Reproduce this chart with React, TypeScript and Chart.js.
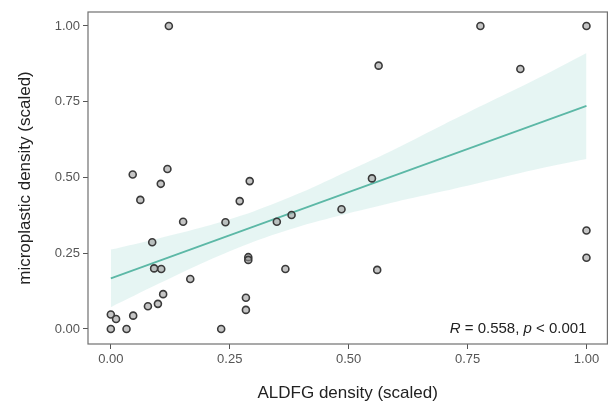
import React, { useEffect, useRef } from "react";
import { Chart, registerables } from "chart.js";

Chart.register(...registerables);

// Observed points (ALDFG density scaled, microplastic density scaled)
const xValues = [
  0.046, 0.119, 0.105, 0.062, 0.152, 0.087, 0.091, 0.106, 0.167, 0.110,
  0.099, 0.078, 0.047, 0.0, 0.011, 0.0, 0.033, 0.292, 0.271, 0.241,
  0.349, 0.380, 0.485, 0.549, 0.289, 0.289, 0.367, 0.560, 0.284, 0.284,
  0.232, 0.777, 1.0, 0.563, 0.861, 1.0, 1.0, 0.122,
];
const yValues = [
  0.510, 0.528, 0.479, 0.426, 0.354, 0.286, 0.200, 0.198, 0.165, 0.115,
  0.083, 0.075, 0.044, 0.048, 0.033, 0.0, 0.0, 0.488, 0.422, 0.352,
  0.354, 0.376, 0.395, 0.497, 0.237, 0.228, 0.198, 0.195, 0.103, 0.063,
  0.0, 1.0, 1.0, 0.869, 0.858, 0.325, 0.235, 1.0,
];

// Fitted line
const fitX = [0, 1];
const fitY = [0.167, 0.736];

// Confidence band
const bandX = [0, 0.1, 0.2, 0.3, 0.4, 0.5, 0.6, 0.7, 0.8, 0.9, 1.0];
const bandUpper = [0.262, 0.299, 0.339, 0.388, 0.45, 0.522, 0.596, 0.675, 0.752, 0.829, 0.911];
const bandLower = [0.072, 0.149, 0.223, 0.288, 0.34, 0.382, 0.42, 0.455, 0.492, 0.529, 0.561];

const tickValues = [0, 0.25, 0.5, 0.75, 1];
const xTitle = "ALDFG density (scaled)";
const yTitle = "microplastic density (scaled)";
const annotationParts = [
  { text: "R", italic: true },
  { text: " = 0.558, ", italic: false },
  { text: "p", italic: true },
  { text: " < 0.001", italic: false },
];

const FONT = "'Liberation Sans', Arial, sans-serif";

const decorPlugin = {
  id: "decor",
  afterDatasetsDraw(chart: any) {
    const { ctx, chartArea, scales } = chart;
    ctx.save();
    ctx.strokeStyle = "#707070";
    ctx.lineWidth = 1.2;
    ctx.strokeRect(chartArea.left, chartArea.top, chartArea.right - chartArea.left, chartArea.bottom - chartArea.top);
    // annotation
    const xr = scales.x.getPixelForValue(1);
    const yc = scales.y.getPixelForValue(0);
    const fontFor = (it: boolean) => `${it ? "italic " : ""}15px ${FONT}`;
    let total = 0;
    for (const p of annotationParts) {
      ctx.font = fontFor(p.italic);
      total += ctx.measureText(p.text).width;
    }
    let x = xr - total;
    ctx.fillStyle = "#222";
    ctx.textBaseline = "middle";
    ctx.textAlign = "left";
    for (const p of annotationParts) {
      ctx.font = fontFor(p.italic);
      ctx.fillText(p.text, x, yc);
      x += ctx.measureText(p.text).width;
    }
    ctx.restore();
  },
};

export default function App() {
  const ref = useRef<HTMLCanvasElement>(null);
  useEffect(() => {
    if (!ref.current) return;
    const points = xValues.map((x, i) => ({ x, y: yValues[i] }));
    const fit = fitX.map((x, i) => ({ x, y: fitY[i] }));
    const up = bandX.map((x, i) => ({ x, y: bandUpper[i] }));
    const lo = bandX.map((x, i) => ({ x, y: bandLower[i] }));
    const chart = new Chart(ref.current, {
      type: "scatter",
      data: {
        datasets: [
          {
            data: points,
            pointRadius: 3.5,
            pointBorderWidth: 1.6,
            pointBorderColor: "#3a3a3a",
            pointBackgroundColor: "rgba(150,150,150,0.55)",
          },
          {
            data: fit,
            showLine: true,
            pointRadius: 0,
            borderColor: "#5cb8a6",
            borderWidth: 1.8,
          },
          {
            data: up,
            showLine: true,
            pointRadius: 0,
            borderWidth: 0,
            borderColor: "rgba(0,0,0,0)",
            backgroundColor: "rgba(140,210,200,0.22)",
            fill: "+1",
            tension: 0.3,
          },
          {
            data: lo,
            showLine: true,
            pointRadius: 0,
            borderWidth: 0,
            borderColor: "rgba(0,0,0,0)",
            fill: false,
            tension: 0.3,
          },
        ],
      },
      options: {
        animation: false,
        responsive: false,
        devicePixelRatio: 1,
        events: [],
        layout: { padding: { top: 12, right: 5, left: 0, bottom: 0 } },
        plugins: { legend: { display: false }, tooltip: { enabled: false } },
        scales: {
          x: {
            type: "linear",
            min: -0.048,
            max: 1.044,
            afterBuildTicks: (s: any) => {
              s.ticks = tickValues.map((v) => ({ value: v }));
            },
            afterFit: (s: any) => {
              s.height = 61;
            },
            ticks: {
              color: "#555",
              font: { family: FONT, size: 13 },
              padding: 3,
              maxRotation: 0,
              callback: (v: any) => Number(v).toFixed(2),
            },
            grid: { display: true, drawOnChartArea: false, drawTicks: true, tickLength: 5, color: "#555" },
            border: { display: false },
            title: {
              display: true,
              text: xTitle,
              color: "#222",
              font: { family: FONT, size: 17 },
              padding: { top: 0, bottom: 1 },
            },
          },
          y: {
            type: "linear",
            min: -0.0495,
            max: 1.046,
            afterBuildTicks: (s: any) => {
              s.ticks = tickValues.map((v) => ({ value: v }));
            },
            afterFit: (s: any) => {
              s.width = 88;
            },
            ticks: {
              color: "#555",
              font: { family: FONT, size: 13 },
              padding: 3,
              callback: (v: any) => Number(v).toFixed(2),
            },
            grid: { display: true, drawOnChartArea: false, drawTicks: true, tickLength: 5, color: "#555" },
            border: { display: false },
            title: {
              display: true,
              text: yTitle,
              color: "#222",
              font: { family: FONT, size: 17 },
              padding: { top: 15, bottom: 0 },
            },
          },
        },
      },
      plugins: [decorPlugin],
    } as any);
    return () => chart.destroy();
  }, []);
  return (
    <div style={{ position: "absolute", left: 0, top: 0, width: 613, height: 405, background: "#fff" }}>
      <canvas ref={ref} width={613} height={405} style={{ width: 613, height: 405, display: "block" }} />
    </div>
  );
}
